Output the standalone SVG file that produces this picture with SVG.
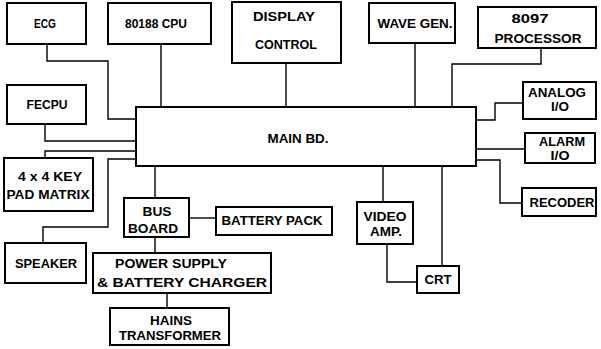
<svg xmlns="http://www.w3.org/2000/svg" width="601" height="349" viewBox="0 0 601 349">
<style>
.box{fill:#fff;stroke:#000;stroke-width:2}
.w{fill:none;stroke:#000;stroke-width:1.4}
text{font-family:"Liberation Sans",Arial,sans-serif;font-weight:bold;font-size:12px;fill:#000;text-anchor:middle}
</style>
<rect width="601" height="349" fill="#fff"/>
<g id="connectors">
<path class="w" d="M47 44V61H108V119H136"/>
<path class="w" d="M161 44V107"/>
<path class="w" d="M286 63V107"/>
<path class="w" d="M415 43V107"/>
<path class="w" d="M541 48V64H452V107"/>
<path class="w" d="M45 124V141H136"/>
<path class="w" d="M45 158V151H136"/>
<path class="w" d="M43 243V227H108V159H136"/>
<path class="w" d="M476 120H495V103H523"/>
<path class="w" d="M476 149H525"/>
<path class="w" d="M476 160H500V203H522"/>
<path class="w" d="M155 166V198"/>
<path class="w" d="M189 218H216"/>
<path class="w" d="M155 237V253"/>
<path class="w" d="M167 293V308"/>
<path class="w" d="M383 166V202"/>
<path class="w" d="M387 244V282H417"/>
<path class="w" d="M442 166V266"/>
</g>
<g id="ecg"><rect class="box" x="7" y="3" width="79" height="41"/><text x="45" y="28" textLength="22" lengthAdjust="spacingAndGlyphs">ECG</text></g>
<g id="cpu"><rect class="box" x="108" y="3" width="103" height="41"/><text x="156" y="28" textLength="62" lengthAdjust="spacingAndGlyphs">80188 CPU</text></g>
<g id="display"><rect class="box" x="232" y="2" width="109" height="61"/><text x="284" y="21" textLength="62" lengthAdjust="spacingAndGlyphs">DISPLAY</text><text x="286" y="49" textLength="62" lengthAdjust="spacingAndGlyphs">CONTROL</text></g>
<g id="wave"><rect class="box" x="369" y="3" width="86" height="40"/><text x="415" y="28" textLength="75" lengthAdjust="spacingAndGlyphs">WAVE GEN.</text></g>
<g id="proc"><rect class="box" x="478" y="7" width="118" height="41"/><text x="530" y="23" textLength="37" lengthAdjust="spacingAndGlyphs">8097</text><text x="538" y="43" textLength="87" lengthAdjust="spacingAndGlyphs">PROCESSOR</text></g>
<g id="fecpu"><rect class="box" x="7" y="85" width="79" height="39"/><text x="47" y="109" textLength="41" lengthAdjust="spacingAndGlyphs">FECPU</text></g>
<g id="analog"><rect class="box" x="523" y="82" width="73" height="37"/><text x="557" y="97" textLength="58" lengthAdjust="spacingAndGlyphs">ANALOG</text><text x="560" y="111" textLength="18" lengthAdjust="spacingAndGlyphs">I/O</text></g>
<g id="main"><rect class="box" x="136" y="107" width="340" height="59"/><text x="298" y="143" textLength="61" lengthAdjust="spacingAndGlyphs">MAIN BD.</text></g>
<g id="alarm"><rect class="box" x="525" y="133" width="70" height="30"/><text x="562" y="146" textLength="46" lengthAdjust="spacingAndGlyphs">ALARM</text><text x="560" y="160" textLength="19" lengthAdjust="spacingAndGlyphs">I/O</text></g>
<g id="recoder"><rect class="box" x="522" y="188" width="74" height="28"/><text x="562" y="207" textLength="65" lengthAdjust="spacingAndGlyphs">RECODER</text></g>
<g id="keypad"><rect class="box" x="4" y="158" width="89" height="53"/><text x="50" y="181" textLength="64" lengthAdjust="spacingAndGlyphs">4 x 4 KEY</text><text x="48" y="199" textLength="83" lengthAdjust="spacingAndGlyphs">PAD MATRIX</text></g>
<g id="bus"><rect class="box" x="124" y="198" width="65" height="39"/><text x="157" y="216" textLength="29" lengthAdjust="spacingAndGlyphs">BUS</text><text x="153" y="233" textLength="50" lengthAdjust="spacingAndGlyphs">BOARD</text></g>
<g id="battery"><rect class="box" x="216" y="207" width="116" height="28"/><text x="272" y="225" textLength="101" lengthAdjust="spacingAndGlyphs">BATTERY PACK</text></g>
<g id="video"><rect class="box" x="357" y="202" width="56" height="42"/><text x="385" y="221" textLength="43" lengthAdjust="spacingAndGlyphs">VIDEO</text><text x="386" y="236" textLength="32" lengthAdjust="spacingAndGlyphs">AMP.</text></g>
<g id="crt"><rect class="box" x="417" y="266" width="42" height="27"/><text x="438" y="284" textLength="27" lengthAdjust="spacingAndGlyphs">CRT</text></g>
<g id="speaker"><rect class="box" x="5" y="243" width="81" height="40"/><text x="46" y="268" textLength="62" lengthAdjust="spacingAndGlyphs">SPEAKER</text></g>
<g id="power"><rect class="box" x="93" y="253" width="178" height="40"/><text x="171" y="268" textLength="112" lengthAdjust="spacingAndGlyphs">POWER SUPPLY</text><text x="182" y="287" textLength="170" lengthAdjust="spacingAndGlyphs">&amp; BATTERY CHARGER</text></g>
<g id="hains"><rect class="box" x="110" y="308" width="119" height="37"/><text x="171" y="325" textLength="42" lengthAdjust="spacingAndGlyphs">HAINS</text><text x="170" y="340" textLength="102" lengthAdjust="spacingAndGlyphs">TRANSFORMER</text></g>
</svg>
